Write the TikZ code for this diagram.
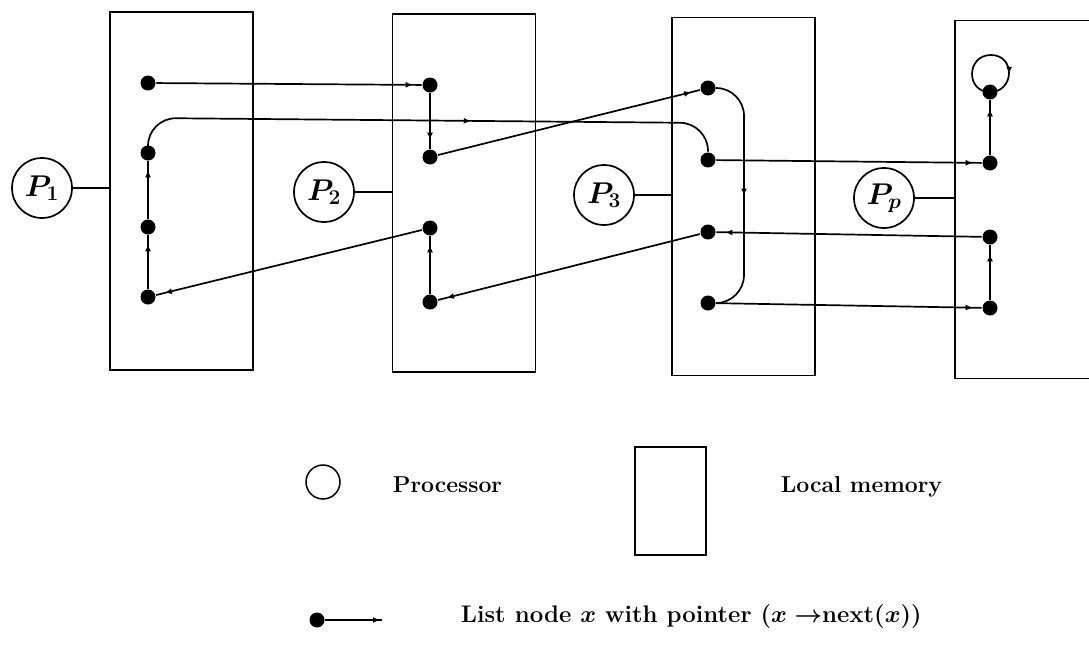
\RequirePackage{fix-cm}
\documentclass[tikz,border=0pt]{standalone}
\usetikzlibrary{arrows.meta,decorations.markings,backgrounds}

\begin{document}
\begin{tikzpicture}[x=1pt,y=-1pt,line width=1.7pt,
  membox/.style={draw, rectangle, minimum width=143pt, minimum height=358pt, inner sep=0pt},
  proc/.style={draw, circle, minimum size=60pt, inner sep=0pt, font=\fontsize{30}{30}\selectfont\boldmath},
  dot/.style={circle, fill, minimum size=15pt, inner sep=0pt},
  wire/.style={line width=1.7pt},
  ptr/.style={wire, postaction={decorate}, decoration={markings, mark=at position #1 with {\arrow{Latex[length=7pt,width=6pt]}}}},
  ptr/.default=-9pt,
  lbl/.style={anchor=base west, inner sep=0pt, font=\fontsize{23}{27}\selectfont\bfseries\boldmath}]

\useasboundingbox (0,0) rectangle (1089,648);
\clip (0,0) rectangle (1089,648);

% local memories
\node[membox] (m1) at (181.5,191) {};
\node[membox] (m2) at (464,193) {};
\node[membox] (m3) at (743.5,196.5) {};
\node[membox] (m4) at (1026.5,199.5) {};

% processors
\node[proc] (p1) at (42,188) {$P_1$};
\node[proc] (p2) at (324,192) {$P_2$};
\node[proc] (p3) at (604,195) {$P_3$};
\node[proc] (pp) at (884,198) {$P_p$};

% list nodes
\node[dot] (a1) at (148,83) {};
\node[dot] (a2) at (148,153) {};
\node[dot] (a3) at (148,227) {};
\node[dot] (a4) at (148,297) {};
\node[dot] (b1) at (430,85) {};
\node[dot] (b2) at (430,157) {};
\node[dot] (b3) at (430,228) {};
\node[dot] (b4) at (430,302) {};
\node[dot] (c1) at (708,88) {};
\node[dot] (c2) at (708,160) {};
\node[dot] (c3) at (708,232) {};
\node[dot] (c4) at (708,303) {};
\node[dot] (d1) at (990,92) {};
\node[dot] (d2) at (990,163) {};
\node[dot] (d3) at (990,237) {};
\node[dot] (d4) at (990,308) {};

% bend points of the two long curved pointers
\coordinate (h1) at (148,118);
\coordinate (h2) at (708,123);
\coordinate (k1) at (744,88);
\coordinate (k2) at (744,303);
\coordinate (lt) at (991,55);

\begin{scope}[on background layer]
  % processor to memory links
  \draw[wire] (p1) -- (p1 -| m1.west);
  \draw[wire] (p2) -- (p2 -| m2.west);
  \draw[wire] (p3) -- (p3 -| m3.west);
  \draw[wire] (pp) -- (pp -| m4.west);

  % next pointers
  \draw[ptr] (a1) -- (b1);
  \draw[ptr] (b1) -- (b2);
  \draw[ptr] (b2) -- (c1);
  \draw[ptr=0.5, rounded corners=28pt] (c1) -- (k1) -- (k2) -- (c4);
  \draw[ptr] (c4) -- (d4);
  \draw[ptr] (d4) -- (d3);
  \draw[ptr] (d3) -- (c3);
  \draw[ptr] (c3) -- (b4);
  \draw[ptr] (b4) -- (b3);
  \draw[ptr] (b3) -- (a4);
  \draw[ptr] (a4) -- (a3);
  \draw[ptr] (a3) -- (a2);
  \draw[ptr=340pt, rounded corners=28pt] (a2) -- (h1) -- (h2) -- (c2);
  \draw[ptr] (c2) -- (d2);
  \draw[ptr] (d2) -- (d1);
  \draw[ptr=0.75] (d1.center) to[out=180,in=180,looseness=1.7] (lt)
                              to[out=0,in=0,looseness=1.7] (d1.center);
\end{scope}

% legend
\node[draw, circle, minimum size=34pt, inner sep=0pt, line width=1.5pt] (lp) at (323,482) {};
\node[lbl] (lpt) at (392,492) {Processor};
\node[draw, rectangle, minimum width=71pt, minimum height=108pt, inner sep=0pt, line width=1.5pt] (lm) at (670.5,501) {};
\node[lbl] (lmt) at (780,492) {Local memory};
\node[dot] (ld) at (317,620) {};
\coordinate (le) at (382,620);
\draw[ptr=-2pt] (ld) -- (le);
\node[lbl, font=\fontsize{24}{28}\selectfont\bfseries\boldmath] (llt) at (460,622)
  {List node $x$ with pointer ($x\rightarrow$next($x$))};
\end{tikzpicture}
\end{document}
